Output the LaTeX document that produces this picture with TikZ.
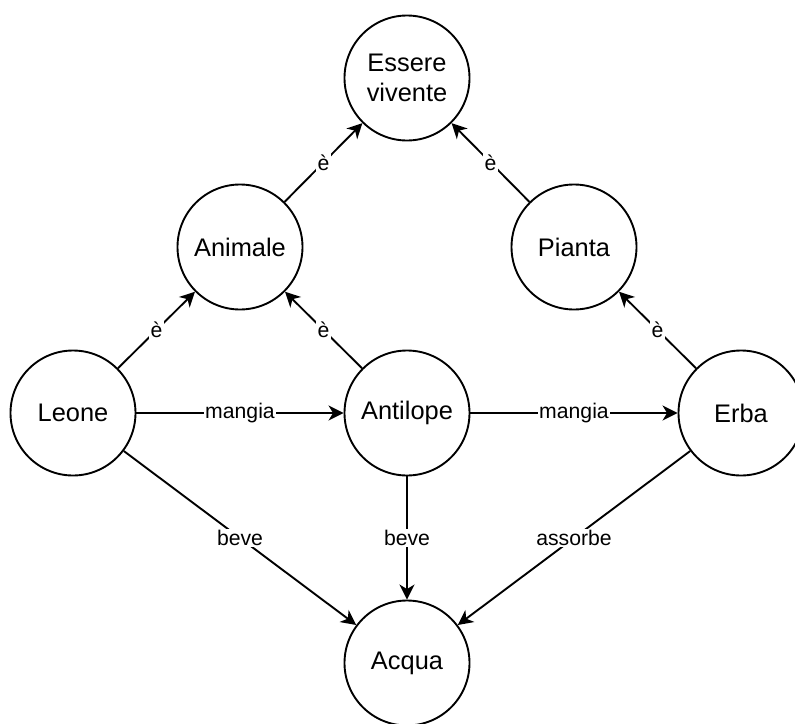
\documentclass[tikz,border=0pt]{standalone}
\usepackage{fontspec}
\setmainfont{Liberation Sans}
\usetikzlibrary{arrows.meta}
\begin{document}
\begin{tikzpicture}[x=1pt,y=-1pt,
  concept/.style={circle, draw=black, line width=1.9pt, fill=white,
    minimum size=125pt, inner sep=0pt, align=center,
    font=\fontsize{25.4}{29.5}\selectfont},
  rel/.style={draw=black, line width=1.9pt,
    -{Stealth[length=15pt,width=15pt,inset=4.5pt]}},
  lbl/.style={fill=white, inner sep=1.5pt,
    font=\fontsize{21.2}{24}\selectfont}]
\useasboundingbox (0,0) rectangle (795,723);
\clip (0,0) rectangle (795,723);

% concepts
\node[concept] (essere)   at (407,78)  {Essere\\vivente};
\node[concept] (animale)  at (240,247) {Animale};
\node[concept] (pianta)   at (574,247) {Pianta};
\node[concept] (leone)    at (73,413)  {Leone};
\node[concept] (antilope) at (407,413) {Antilope};
\node[concept] (erba)     at (741,413) {Erba};
\node[concept] (acqua)    at (407,663) {Acqua};

% relations
\draw[rel] (animale)  -- node[lbl] {è} (essere);
\draw[rel] (pianta)   -- node[lbl] {è} (essere);
\draw[rel] (leone)    -- node[lbl] {è} (animale);
\draw[rel] (antilope) -- node[lbl] {è} (animale);
\draw[rel] (erba)     -- node[lbl] {è} (pianta);
\draw[rel] (leone)    -- node[lbl] {mangia} (antilope);
\draw[rel] (antilope) -- node[lbl] {mangia} (erba);
\draw[rel] (leone)    -- node[lbl] {beve} (acqua);
\draw[rel] (antilope) -- node[lbl] {beve} (acqua);
\draw[rel] (erba)     -- node[lbl] {assorbe} (acqua);
\end{tikzpicture}
\end{document}
